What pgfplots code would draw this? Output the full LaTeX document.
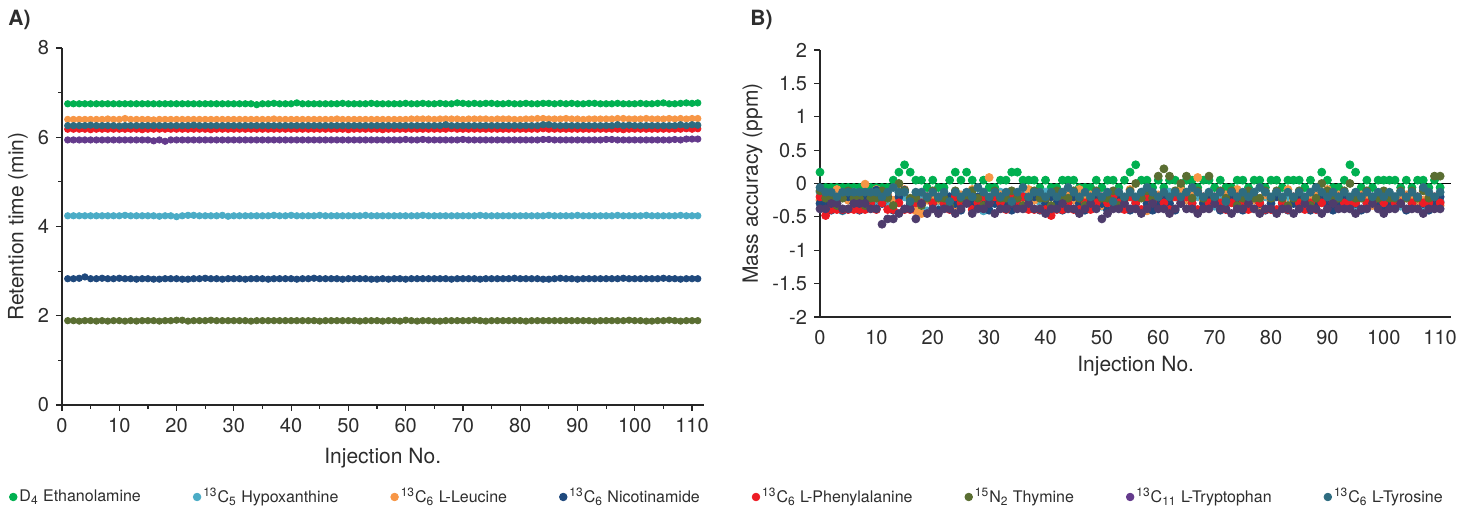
\documentclass[border=0pt]{standalone}
\usepackage{pgfplots}
\pgfplotsset{compat=1.18}
\usepackage{pgfplotstable}
\usepackage{fontspec}
\setmainfont{TeX Gyre Heros}

\definecolor{ceth}{RGB}{0,176,80}
\definecolor{chyp}{RGB}{75,172,198}
\definecolor{cleu}{RGB}{247,150,70}
\definecolor{cnic}{RGB}{31,73,125}
\definecolor{cphe}{RGB}{237,28,36}
\definecolor{cthy}{RGB}{90,110,50}
\definecolor{ctrp}{RGB}{100,58,140}
\definecolor{ctrpb}{RGB}{78,60,108}
\definecolor{ctyr}{RGB}{46,108,128}
\definecolor{txt}{RGB}{45,45,45}

% retention time (min) per injection
\pgfplotstableread{
x eth hyp leu nic phe thy trp tyr
1 6.75 4.24 6.40 2.83 6.18 1.89 5.94 6.26
2 6.75 4.24 6.40 2.83 6.18 1.89 5.94 6.26
3 6.75 4.24 6.40 2.84 6.18 1.88 5.94 6.26
4 6.75 4.24 6.40 2.87 6.18 1.89 5.94 6.26
5 6.75 4.24 6.40 2.83 6.17 1.89 5.94 6.27
6 6.75 4.24 6.40 2.83 6.18 1.88 5.94 6.26
7 6.75 4.24 6.40 2.84 6.18 1.89 5.94 6.26
8 6.75 4.24 6.41 2.83 6.18 1.88 5.94 6.26
9 6.75 4.24 6.40 2.83 6.18 1.89 5.94 6.26
10 6.75 4.24 6.40 2.84 6.18 1.89 5.94 6.25
11 6.75 4.25 6.42 2.83 6.18 1.88 5.94 6.26
12 6.75 4.24 6.40 2.83 6.18 1.89 5.94 6.26
13 6.75 4.24 6.40 2.82 6.18 1.88 5.94 6.26
14 6.75 4.24 6.40 2.83 6.17 1.89 5.94 6.26
15 6.75 4.24 6.40 2.83 6.18 1.89 5.94 6.26
16 6.75 4.24 6.39 2.82 6.18 1.89 5.92 6.26
17 6.75 4.23 6.40 2.82 6.18 1.88 5.94 6.26
18 6.75 4.24 6.40 2.83 6.18 1.89 5.91 6.26
19 6.75 4.24 6.40 2.83 6.18 1.89 5.94 6.26
20 6.75 4.22 6.40 2.83 6.18 1.90 5.94 6.26
21 6.75 4.24 6.40 2.82 6.18 1.90 5.94 6.26
22 6.75 4.25 6.40 2.82 6.18 1.88 5.94 6.26
23 6.75 4.25 6.40 2.83 6.18 1.89 5.94 6.27
24 6.75 4.24 6.40 2.83 6.18 1.89 5.94 6.26
25 6.75 4.24 6.40 2.84 6.18 1.89 5.94 6.26
26 6.75 4.24 6.40 2.83 6.17 1.90 5.94 6.26
27 6.75 4.24 6.40 2.83 6.18 1.89 5.94 6.26
28 6.75 4.25 6.40 2.82 6.18 1.89 5.94 6.26
29 6.75 4.23 6.40 2.83 6.18 1.89 5.94 6.26
30 6.75 4.24 6.40 2.83 6.18 1.89 5.94 6.26
31 6.75 4.24 6.40 2.83 6.18 1.89 5.94 6.26
32 6.75 4.24 6.40 2.82 6.18 1.89 5.94 6.26
33 6.75 4.24 6.40 2.83 6.18 1.88 5.94 6.26
34 6.73 4.24 6.40 2.83 6.18 1.89 5.94 6.26
35 6.75 4.24 6.40 2.83 6.18 1.89 5.94 6.26
36 6.75 4.24 6.40 2.82 6.18 1.89 5.94 6.26
37 6.76 4.25 6.41 2.83 6.18 1.89 5.94 6.26
38 6.75 4.24 6.40 2.83 6.18 1.89 5.94 6.26
39 6.75 4.24 6.40 2.83 6.18 1.89 5.94 6.26
40 6.75 4.25 6.40 2.83 6.18 1.89 5.94 6.26
41 6.77 4.24 6.40 2.82 6.18 1.89 5.94 6.26
42 6.75 4.24 6.40 2.83 6.18 1.89 5.94 6.26
43 6.75 4.24 6.40 2.83 6.18 1.89 5.94 6.26
44 6.75 4.24 6.40 2.84 6.18 1.89 5.94 6.26
45 6.75 4.25 6.40 2.83 6.18 1.88 5.94 6.26
46 6.75 4.24 6.40 2.83 6.18 1.89 5.94 6.26
47 6.75 4.24 6.40 2.83 6.18 1.89 5.94 6.26
48 6.75 4.24 6.41 2.83 6.18 1.89 5.94 6.26
49 6.76 4.24 6.40 2.82 6.18 1.89 5.94 6.26
50 6.75 4.24 6.40 2.83 6.17 1.89 5.94 6.26
51 6.75 4.24 6.40 2.83 6.18 1.89 5.94 6.26
52 6.75 4.24 6.40 2.83 6.18 1.88 5.94 6.26
53 6.75 4.25 6.40 2.83 6.18 1.89 5.94 6.26
54 6.76 4.24 6.40 2.82 6.18 1.89 5.94 6.26
55 6.75 4.24 6.40 2.82 6.18 1.89 5.94 6.26
56 6.75 4.24 6.40 2.83 6.17 1.88 5.94 6.26
57 6.75 4.24 6.40 2.82 6.18 1.89 5.94 6.26
58 6.75 4.24 6.40 2.83 6.18 1.89 5.94 6.26
59 6.75 4.24 6.40 2.83 6.18 1.88 5.94 6.26
60 6.76 4.24 6.40 2.82 6.18 1.90 5.95 6.26
61 6.75 4.24 6.41 2.83 6.18 1.89 5.94 6.26
62 6.75 4.24 6.41 2.83 6.18 1.88 5.94 6.26
63 6.76 4.25 6.41 2.83 6.18 1.89 5.95 6.26
64 6.75 4.24 6.41 2.83 6.18 1.89 5.94 6.26
65 6.75 4.24 6.40 2.83 6.18 1.88 5.94 6.26
66 6.76 4.24 6.41 2.83 6.18 1.88 5.94 6.26
67 6.75 4.24 6.41 2.83 6.18 1.89 5.94 6.28
68 6.75 4.24 6.41 2.82 6.19 1.89 5.94 6.26
69 6.77 4.24 6.41 2.83 6.18 1.89 5.94 6.26
70 6.76 4.24 6.40 2.83 6.18 1.89 5.95 6.26
71 6.75 4.24 6.41 2.83 6.18 1.89 5.94 6.26
72 6.76 4.24 6.41 2.83 6.18 1.90 5.94 6.26
73 6.75 4.25 6.41 2.82 6.18 1.89 5.94 6.26
74 6.76 4.24 6.41 2.83 6.18 1.88 5.94 6.26
75 6.76 4.24 6.40 2.83 6.18 1.89 5.94 6.26
76 6.75 4.24 6.41 2.83 6.18 1.89 5.94 6.26
77 6.75 4.24 6.41 2.83 6.18 1.89 5.94 6.26
78 6.76 4.24 6.41 2.83 6.18 1.89 5.94 6.26
79 6.75 4.24 6.40 2.84 6.18 1.89 5.94 6.26
80 6.75 4.24 6.40 2.83 6.18 1.89 5.94 6.26
81 6.76 4.24 6.41 2.83 6.18 1.88 5.94 6.26
82 6.75 4.24 6.41 2.83 6.18 1.89 5.94 6.26
83 6.75 4.24 6.42 2.83 6.18 1.89 5.94 6.26
84 6.76 4.24 6.42 2.82 6.19 1.89 5.95 6.28
85 6.76 4.25 6.41 2.82 6.18 1.89 5.95 6.28
86 6.75 4.24 6.41 2.83 6.18 1.89 5.94 6.26
87 6.76 4.24 6.41 2.84 6.18 1.89 5.94 6.26
88 6.75 4.24 6.42 2.83 6.18 1.89 5.94 6.26
89 6.76 4.24 6.41 2.83 6.18 1.89 5.94 6.26
90 6.75 4.25 6.41 2.82 6.18 1.89 5.94 6.26
91 6.75 4.24 6.40 2.83 6.18 1.89 5.94 6.26
92 6.76 4.24 6.41 2.83 6.18 1.89 5.94 6.26
93 6.76 4.24 6.41 2.83 6.18 1.88 5.94 6.26
94 6.75 4.24 6.41 2.83 6.18 1.89 5.94 6.26
95 6.75 4.24 6.41 2.83 6.18 1.89 5.95 6.26
96 6.75 4.24 6.41 2.83 6.18 1.89 5.95 6.26
97 6.76 4.25 6.42 2.83 6.18 1.89 5.94 6.28
98 6.75 4.24 6.42 2.84 6.17 1.89 5.94 6.26
99 6.75 4.24 6.41 2.83 6.18 1.90 5.94 6.27
100 6.75 4.24 6.41 2.83 6.18 1.89 5.94 6.26
101 6.76 4.24 6.41 2.83 6.18 1.89 5.94 6.26
102 6.75 4.25 6.42 2.83 6.18 1.88 5.94 6.26
103 6.75 4.24 6.41 2.83 6.18 1.88 5.94 6.26
104 6.76 4.24 6.41 2.83 6.18 1.89 5.94 6.26
105 6.77 4.24 6.41 2.84 6.18 1.89 5.94 6.26
106 6.75 4.24 6.42 2.83 6.18 1.90 5.94 6.26
107 6.75 4.24 6.41 2.83 6.18 1.89 5.95 6.26
108 6.76 4.25 6.42 2.82 6.18 1.88 5.94 6.28
109 6.77 4.24 6.41 2.83 6.19 1.89 5.96 6.26
110 6.76 4.24 6.42 2.83 6.18 1.89 5.96 6.28
111 6.77 4.24 6.42 2.83 6.19 1.89 5.96 6.27
}\rtdata

% mass accuracy (ppm) per injection
\pgfplotstableread{
x eth hyp leu nic phe thy trp tyr
0 0.17 -0.13 -0.25 -0.30 -0.20 -0.11 -0.38 -0.06
1 -0.06 -0.34 -0.17 -0.30 -0.48 -0.22 -0.38 -0.13
2 -0.06 -0.27 -0.25 -0.40 -0.39 -0.22 -0.30 -0.13
3 -0.06 -0.20 -0.09 -0.30 -0.39 -0.33 -0.30 -0.20
4 -0.06 -0.41 -0.17 -0.40 -0.39 -0.22 -0.38 -0.13
5 -0.06 -0.13 -0.25 -0.20 -0.39 -0.11 -0.38 -0.13
6 -0.06 -0.13 -0.33 -0.30 -0.39 -0.22 -0.30 -0.13
7 -0.06 -0.20 -0.25 -0.40 -0.39 -0.22 -0.30 -0.13
8 -0.06 -0.34 -0.01 -0.20 -0.39 -0.33 -0.30 -0.13
9 -0.06 -0.20 -0.17 -0.30 -0.29 -0.22 -0.38 -0.13
10 -0.06 -0.27 -0.09 -0.10 -0.39 -0.22 -0.38 -0.13
11 -0.06 -0.13 -0.25 -0.30 -0.29 -0.11 -0.61 -0.20
12 -0.06 -0.34 -0.17 -0.20 -0.39 -0.22 -0.53 -0.13
13 0.05 -0.27 -0.25 -0.40 -0.39 -0.33 -0.53 -0.06
14 0.17 -0.13 -0.01 -0.20 -0.29 0.00 -0.45 -0.13
15 0.28 -0.20 -0.09 -0.10 -0.39 -0.11 -0.38 -0.13
16 0.17 -0.27 -0.33 -0.30 -0.39 -0.22 -0.38 -0.27
17 0.05 -0.34 -0.41 -0.20 -0.29 -0.22 -0.53 -0.13
18 0.05 -0.20 -0.45 -0.30 -0.29 -0.33 -0.30 -0.13
19 -0.06 -0.41 -0.25 -0.20 -0.20 -0.22 -0.45 -0.20
20 0.05 -0.20 -0.17 -0.30 -0.29 -0.11 -0.38 -0.13
21 -0.06 -0.27 -0.25 -0.40 -0.20 -0.22 -0.45 -0.20
22 -0.06 -0.34 -0.17 -0.30 -0.29 -0.22 -0.38 -0.13
23 0.05 -0.20 -0.25 -0.20 -0.39 -0.33 -0.38 -0.27
24 0.17 -0.13 -0.33 -0.30 -0.20 -0.11 -0.45 -0.13
25 0.05 -0.27 -0.17 -0.40 -0.29 -0.22 -0.38 -0.20
26 0.17 -0.20 -0.25 -0.20 -0.20 -0.22 -0.30 -0.13
27 0.05 -0.34 -0.09 -0.30 -0.39 -0.11 -0.45 -0.20
28 -0.06 -0.20 -0.25 -0.20 -0.29 -0.22 -0.38 -0.06
29 0.05 -0.41 -0.17 -0.30 -0.20 -0.33 -0.38 -0.13
30 -0.06 -0.27 0.09 -0.40 -0.29 -0.22 -0.30 -0.20
31 -0.06 -0.20 -0.25 -0.30 -0.20 -0.11 -0.45 -0.13
32 0.05 -0.13 -0.17 -0.20 -0.29 -0.22 -0.38 -0.20
33 0.05 -0.34 -0.25 -0.30 -0.39 -0.22 -0.38 -0.13
34 0.17 -0.20 -0.33 -0.40 -0.20 -0.11 -0.30 -0.27
35 0.17 -0.27 -0.17 -0.30 -0.29 -0.22 -0.38 -0.13
36 0.05 -0.13 -0.25 -0.20 -0.20 -0.33 -0.38 -0.06
37 0.05 -0.34 -0.09 -0.30 -0.39 -0.22 -0.30 -0.20
38 0.05 -0.20 -0.25 -0.20 -0.39 -0.11 -0.38 -0.13
39 -0.06 -0.27 -0.17 -0.40 -0.39 -0.22 -0.38 -0.13
40 0.05 -0.13 -0.25 -0.30 -0.39 -0.22 -0.45 -0.20
41 -0.06 -0.34 -0.17 -0.20 -0.48 -0.33 -0.38 -0.13
42 -0.06 -0.20 -0.25 -0.30 -0.39 -0.11 -0.38 -0.20
43 0.05 -0.27 -0.33 -0.40 -0.39 -0.22 -0.30 -0.13
44 0.05 -0.13 -0.17 -0.30 -0.29 -0.22 -0.38 -0.06
45 0.05 -0.20 -0.25 -0.20 -0.39 -0.11 -0.38 -0.13
46 -0.06 -0.34 -0.09 -0.30 -0.39 -0.22 -0.45 -0.20
47 -0.06 -0.27 -0.25 -0.40 -0.29 -0.33 -0.38 -0.13
48 -0.06 -0.20 -0.17 -0.30 -0.39 -0.22 -0.30 -0.20
49 0.05 -0.13 -0.25 -0.20 -0.29 -0.11 -0.38 -0.13
50 -0.06 -0.34 -0.33 -0.30 -0.20 -0.22 -0.53 -0.20
51 0.05 -0.27 -0.17 -0.40 -0.29 -0.22 -0.45 -0.13
52 0.05 -0.20 -0.25 -0.30 -0.20 -0.11 -0.38 -0.27
53 -0.06 -0.13 -0.17 -0.20 -0.29 -0.33 -0.38 -0.13
54 0.05 -0.34 -0.25 -0.30 -0.39 -0.22 -0.30 -0.20
55 0.17 -0.20 -0.09 -0.40 -0.20 -0.11 -0.38 -0.13
56 0.28 -0.27 -0.25 -0.30 -0.29 0.00 -0.38 -0.20
57 0.05 -0.13 -0.17 -0.20 -0.39 -0.22 -0.45 -0.13
58 0.05 -0.34 -0.41 -0.30 -0.20 -0.11 -0.38 -0.06
59 -0.06 -0.20 -0.25 -0.40 -0.29 -0.22 -0.30 -0.13
60 0.05 -0.27 -0.17 -0.30 -0.20 0.11 -0.38 -0.20
61 -0.06 -0.34 -0.33 -0.20 -0.29 0.22 -0.38 -0.13
62 0.05 -0.13 -0.25 -0.30 -0.39 0.11 -0.45 -0.20
63 0.05 -0.20 -0.17 -0.40 -0.20 -0.11 -0.38 -0.13
64 -0.06 -0.27 -0.09 -0.30 -0.29 0.00 -0.30 -0.20
65 0.05 -0.13 -0.25 -0.20 -0.20 0.11 -0.38 -0.13
66 0.05 -0.34 -0.17 -0.30 -0.29 -0.22 -0.38 -0.06
67 -0.06 -0.20 0.09 -0.40 -0.39 -0.11 -0.45 -0.13
68 0.05 -0.27 -0.25 -0.30 -0.20 -0.22 -0.38 -0.20
69 0.05 -0.13 -0.17 -0.20 -0.29 0.11 -0.38 -0.13
70 -0.06 -0.34 -0.25 -0.30 -0.20 -0.22 -0.30 -0.20
71 0.05 -0.20 -0.33 -0.40 -0.29 -0.11 -0.38 -0.13
72 -0.06 -0.27 -0.17 -0.30 -0.39 -0.22 -0.38 -0.27
73 -0.06 -0.13 -0.25 -0.20 -0.29 -0.11 -0.45 -0.13
74 0.05 -0.34 -0.09 -0.30 -0.20 -0.33 -0.38 -0.20
75 0.05 -0.20 -0.25 -0.40 -0.29 -0.22 -0.38 -0.13
76 -0.06 -0.27 -0.17 -0.30 -0.39 -0.11 -0.30 -0.20
77 0.05 -0.13 -0.25 -0.20 -0.20 -0.22 -0.38 -0.13
78 0.05 -0.34 -0.33 -0.30 -0.29 -0.22 -0.45 -0.06
79 -0.06 -0.20 -0.17 -0.40 -0.39 -0.11 -0.38 -0.13
80 0.05 -0.27 -0.25 -0.30 -0.39 -0.22 -0.38 -0.20
81 0.05 -0.13 -0.17 -0.20 -0.39 -0.11 -0.45 -0.13
82 -0.06 -0.34 -0.25 -0.30 -0.29 -0.22 -0.38 -0.20
83 0.05 -0.20 -0.09 -0.40 -0.39 -0.33 -0.38 -0.13
84 0.05 -0.27 -0.25 -0.30 -0.20 -0.22 -0.45 -0.20
85 0.05 -0.13 -0.17 -0.20 -0.29 -0.11 -0.38 -0.13
86 -0.06 -0.34 -0.33 -0.30 -0.39 -0.22 -0.30 -0.20
87 0.05 -0.20 -0.25 -0.40 -0.29 -0.33 -0.38 -0.13
88 -0.06 -0.27 -0.17 -0.30 -0.39 -0.22 -0.38 -0.06
89 0.17 -0.13 -0.25 -0.20 -0.29 0.00 -0.45 -0.13
90 0.05 -0.34 -0.09 -0.30 -0.20 -0.11 -0.38 -0.20
91 -0.06 -0.20 -0.25 -0.40 -0.29 -0.22 -0.30 -0.13
92 -0.06 -0.27 -0.17 -0.30 -0.20 -0.22 -0.38 -0.20
93 0.05 -0.34 -0.25 -0.20 -0.29 -0.11 -0.38 -0.13
94 0.28 -0.27 -0.33 -0.30 -0.29 0.00 -0.38 -0.20
95 0.17 -0.34 -0.25 -0.30 -0.29 -0.22 -0.45 -0.13
96 -0.06 -0.20 -0.17 -0.40 -0.20 -0.22 -0.38 -0.20
97 0.05 -0.34 -0.25 -0.30 -0.29 -0.11 -0.38 -0.13
98 -0.06 -0.27 -0.33 -0.20 -0.29 -0.22 -0.30 -0.20
99 0.05 -0.34 -0.25 -0.30 -0.20 -0.22 -0.38 -0.13
100 0.05 -0.20 -0.17 -0.40 -0.29 -0.11 -0.45 -0.20
101 0.05 -0.34 -0.25 -0.30 -0.20 -0.22 -0.38 -0.13
102 0.05 -0.27 -0.33 -0.20 -0.29 -0.22 -0.38 -0.20
103 -0.06 -0.34 -0.25 -0.30 -0.29 -0.11 -0.30 -0.13
104 0.05 -0.20 -0.17 -0.40 -0.20 -0.22 -0.38 -0.20
105 -0.06 -0.34 -0.25 -0.30 -0.29 -0.11 -0.38 -0.13
106 0.05 -0.27 -0.33 -0.20 -0.20 -0.22 -0.38 -0.20
107 0.05 -0.34 -0.25 -0.30 -0.29 -0.11 -0.45 -0.06
108 -0.06 -0.20 -0.17 -0.40 -0.29 -0.22 -0.38 -0.13
109 0.05 -0.34 -0.25 -0.30 -0.20 0.11 -0.38 -0.20
110 -0.06 -0.27 -0.33 -0.20 -0.29 0.11 -0.38 -0.13
}\madata

\pgfplotsset{
  panel/.style={
    scale only axis,
    axis lines=left,
    axis line style={-, draw=black!85, line width=0.6pt},
    tick align=outside,
    tick style={draw=black!85, line width=0.6pt},
    major tick length=3pt, minor tick length=1.8pt,
    ticklabel style={font=\fontsize{10}{12}\selectfont, text=txt},
    label style={font=\fontsize{10.5}{12.6}\selectfont, text=txt},
    /pgf/number format/assume math mode=true,
    xmin=0, xmax=112, xtick={0,10,...,110},
    xlabel={Injection No.},
    clip=false,
  },
  dot/.style={only marks, mark=*, color=#1, mark options={draw=none, fill=#1}},
}

\begin{document}
\begin{tikzpicture}
\path[use as bounding box] (-31pt,-51.5pt) rectangle (697.5pt,202.5pt);

% panel A
\begin{axis}[panel,
  width=320.75pt, height=178.5pt,
  ymin=0, ymax=8, ytick={0,2,...,8},
  minor x tick num=1, minor y tick num=1,
  ylabel={Retention time (min)},
  xlabel style={at={(axis description cs:0.5,-0.1485)}, anchor=center},
  ylabel style={at={(axis description cs:-0.0686,0.5)}, anchor=center},
  every axis plot/.append style={mark size=1.6pt},
  legend columns=8,
  legend style={at={(axis description cs:-0.0825,-0.2577)}, anchor=west,
    draw=none, fill=none, inner sep=0pt,
    font=\footnotesize, text=txt,
    nodes={inner xsep=1.2pt},
    /tikz/every even column/.append style={column sep=25pt}},
  legend image code/.code={\draw[#1, mark size=1.9pt] plot coordinates {(0pt,0pt)};},
]
\addplot[dot=ceth] table[x=x, y=eth] {\rtdata};
\addlegendentry{D\textsubscript{4} Ethanolamine}
\addplot[dot=chyp] table[x=x, y=hyp] {\rtdata};
\addlegendentry{\textsuperscript{13}C\textsubscript{5} Hypoxanthine}
\addplot[dot=cleu] table[x=x, y=leu] {\rtdata};
\addlegendentry{\textsuperscript{13}C\textsubscript{6} L-Leucine}
\addplot[dot=cnic] table[x=x, y=nic] {\rtdata};
\addlegendentry{\textsuperscript{13}C\textsubscript{6} Nicotinamide}
\addplot[dot=cphe] table[x=x, y=phe] {\rtdata};
\addlegendentry{\textsuperscript{13}C\textsubscript{6} L-Phenylalanine}
\addplot[dot=cthy] table[x=x, y=thy] {\rtdata};
\addlegendentry{\textsuperscript{15}N\textsubscript{2} Thymine}
\addplot[dot=ctrp] table[x=x, y=trp] {\rtdata};
\addlegendentry{\textsuperscript{13}C\textsubscript{11} L-Tryptophan}
\addplot[dot=ctyr] table[x=x, y=tyr] {\rtdata};
\addlegendentry{\textsuperscript{13}C\textsubscript{6} L-Tyrosine}
\end{axis}

% panel B
\begin{axis}[panel,
  at={(379pt,44pt)},
  width=315.7pt, height=133.5pt,
  ymin=-2, ymax=2, ytick={-2,-1.5,...,2},
  xtick style={draw=none},
  ylabel={Mass accuracy (ppm)},
  xlabel style={at={(axis description cs:0.5,-0.1835)}, anchor=center},
  ylabel style={at={(axis description cs:-0.107,0.5)}, anchor=center},
  every axis plot/.append style={mark size=2pt},
]
\addplot[black, line width=0.7pt, no marks, forget plot] coordinates {(0,0) (112,0)};
\addplot[dot=ceth] table[x=x, y=eth] {\madata};
\addplot[dot=chyp] table[x=x, y=hyp] {\madata};
\addplot[dot=cleu] table[x=x, y=leu] {\madata};
\addplot[dot=cnic] table[x=x, y=nic] {\madata};
\addplot[dot=cphe] table[x=x, y=phe] {\madata};
\addplot[dot=cthy] table[x=x, y=thy] {\madata};
\addplot[dot=ctrpb] table[x=x, y=trp] {\madata};
\addplot[dot=ctyr] table[x=x, y=tyr] {\madata};
\end{axis}

\node[anchor=north west, font=\fontsize{10.5}{12.6}\selectfont\bfseries, text=txt, inner sep=0pt] at (-27pt,197.5pt) {A)};
\node[anchor=north west, font=\fontsize{10.5}{12.6}\selectfont\bfseries, text=txt, inner sep=0pt] at (344pt,197.5pt) {B)};
\end{tikzpicture}
\end{document}
